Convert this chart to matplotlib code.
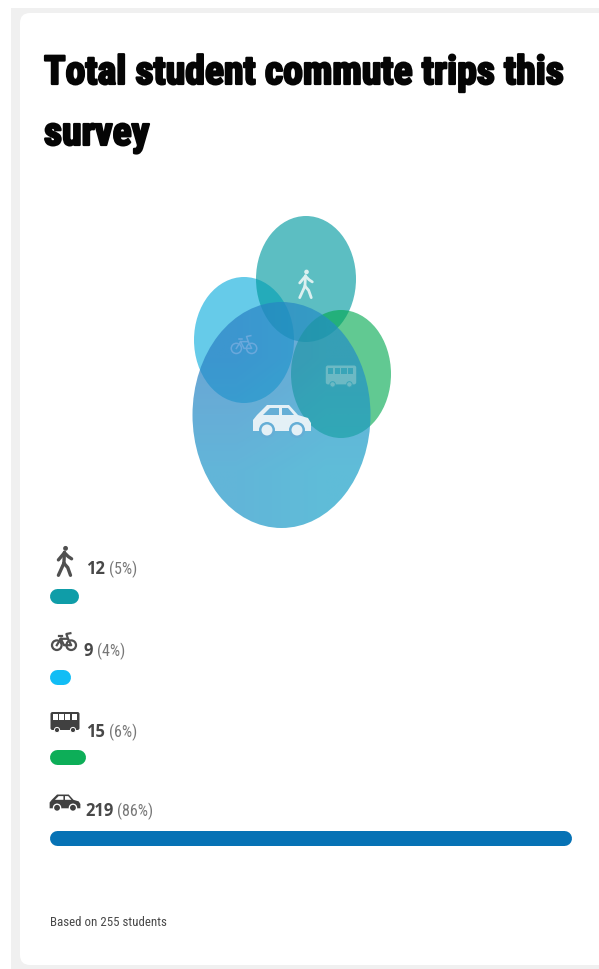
"""Total student commute trips: overlapping ellipses above a small bar list."""
import matplotlib
matplotlib.use('Agg')
import matplotlib.pyplot as plt
import matplotlib.patheffects as pe
import numpy as np
from matplotlib.patches import Ellipse, FancyBboxPatch, Circle, Polygon, Rectangle

TITLE = ["Total student commute trips this", "survey"]
MODES = ["walk", "bike", "bus", "car"]
COUNTS = [12, 9, 15, 219]
SHARES = ["(5%)", "(4%)", "(6%)", "(86%)"]
BAR_COLORS = ["#0F9DA8", "#12BDF5", "#0DAE58", "#0672B5"]
FOOTNOTE = "Based on 255 students"

BAR_X0 = 49.5
BAR_PX_PER_TRIP = 522 / 219
BAR_MID = [596, 677, 757, 838]
LABEL_Y = [569, 651, 732, 811]
ICON_X = [65, 64, 65, 65]
ICON_Y = [561, 642, 722, 803]
TEXT_X = [86, 84, 86, 85]

fig = plt.figure(figsize=(5.99, 9.69), dpi=100)
ax = fig.add_axes([0, 0, 1, 1])

# card
ax.add_patch(Rectangle((11, 8), 600, 962, fc="#F0F0F0", ec="none"))
ax.add_patch(FancyBboxPatch((20, 13), 600, 952, boxstyle="round,pad=0,rounding_size=10",
                            fc="white", ec="none"))

# title
for line, y in zip(TITLE, [73, 134]):
    ax.text(44, y, line, fontsize=28.6, family="Roboto Condensed", weight="bold",
            va="center", ha="left", color="#050505",
            path_effects=[pe.withStroke(linewidth=1.6, foreground="#050505")])

# bubbles, bottom one first; the car bubble fades from blue to cyan
ax.add_patch(Ellipse((244, 340), 100, 126, fc="#66CBE9", ec="none"))
ax.add_patch(Ellipse((306, 279), 100, 126, fc="#009AA0", alpha=0.64, ec="none"))
ax.add_patch(Ellipse((341, 374), 100, 128, fc="#00A850", alpha=0.62, ec="none"))
car_shape = Ellipse((281.5, 415), 178, 226, fc="none", ec="none")
ax.add_patch(car_shape)
car_fill = np.array([[[42, 128, 196], [36, 142, 198]],
                     [[30, 150, 200], [26, 160, 200]]]) / 255
car_img = ax.imshow(np.dstack([car_fill, np.full((2, 2), 0.7)]),
                    extent=(192, 371, 528, 302), aspect='auto',
                    interpolation='bilinear', origin='upper', zorder=1)
car_img.set_clip_path(car_shape)


def draw_walk(cx, cy, s, color, lw):
    ax.add_patch(Circle((cx + 0.5 * s, cy - 11.5 * s), 2.2 * s, fc=color, ec="none"))
    segs = [[(-0.5, -8), (-1, 2)], [(-1, 2), (-6, 13)], [(-1, 2), (2.5, 6), (5, 13)],
            [(-6, -1), (-0.5, -7.5), (3, -4), (6, -2)]]
    for seg in segs:
        ax.plot([cx + p[0] * s for p in seg], [cy + p[1] * s for p in seg],
                color=color, lw=lw, solid_capstyle='round')


def draw_bike(cx, cy, s, color, lw=1.3):
    for dx in (-9, 9):
        ax.add_patch(Circle((cx + dx * s, cy + 4 * s), 6 * s, fc="none", ec=color, lw=lw))
    pts = [(-9, 4), (-4, -4), (5, -4), (9, 4), (0, 4), (-4, -4)]
    ax.plot([cx + p[0] * s for p in pts], [cy + p[1] * s for p in pts], color=color, lw=lw)
    ax.plot([cx + 5 * s, cx + 3 * s, cx + 8 * s], [cy - 4 * s, cy - 10 * s, cy - 11 * s],
            color=color, lw=lw)
    ax.plot([cx - 6 * s, cx - 2 * s], [cy - 7 * s, cy - 7 * s], color=color, lw=lw)


def draw_bus(cx, cy, s, color, glass, wheel):
    ax.add_patch(FancyBboxPatch((cx - 14.5 * s, cy - 10 * s), 29 * s, 18 * s,
                                boxstyle=f"round,pad=0,rounding_size={2 * s}",
                                fc=color, ec="none"))
    for i in range(4):
        ax.add_patch(Rectangle((cx + (-12.5 + 6.4 * i) * s, cy - 8 * s), 5 * s, 6 * s,
                               fc=glass, ec="none"))
    for dx in (-8, 8):
        ax.add_patch(Circle((cx + dx * s, cy + 8 * s), 2.6 * s, fc=color, ec=wheel, lw=0.7))


def draw_car(cx, cy, s, color, glass, wheel):
    body = [(-29, 10), (-29, -1), (-25, -6), (-15, -16), (7, -16), (16, -6), (26, -3),
            (29, 2), (29, 10)]
    ax.add_patch(Polygon([(cx + x * s, cy + y * s) for x, y in body], fc=color, ec="none",
                         joinstyle='round'))
    for win in ([(-19, -6), (-12, -13), (-3, -13), (-3, -6)], [(0, -13), (6, -13), (12, -6), (0, -6)]):
        ax.add_patch(Polygon([(cx + x * s, cy + y * s) for x, y in win], fc=glass, ec="none"))
    for dx in (-15, 15):
        ax.add_patch(Circle((cx + dx * s, cy + 9 * s), 8 * s, fc=wheel, ec="none"))
        ax.add_patch(Circle((cx + dx * s, cy + 9 * s), 5.5 * s, fc=color, ec="none"))


draw_walk(306, 284, 1.05, "#DCF0F0", 2.0)
draw_bike(244, 345, 0.85, "#6AA8DC", lw=1.1)
draw_bus(341, 376, 1.05, "#6CB9C4", "#39A5B8", "#39A5B8")
draw_car(282, 421, 1.0, "#E4F0F6", "#65AED6", "#65AED6")

# value rows
icon_fns = {
    "walk": lambda x, y: draw_walk(x, y, 1.1, "#505050", 2.4),
    "bike": lambda x, y: draw_bike(x, y, 0.8, "#505050", lw=1.6),
    "bus": lambda x, y: draw_bus(x, y, 1.0, "#404040", "white", "white"),
    "car": lambda x, y: draw_car(x, y, 0.53, "#404040", "white", "white"),
}
for i, mode in enumerate(MODES):
    w = COUNTS[i] * BAR_PX_PER_TRIP
    ax.plot([BAR_X0 + 7.5, BAR_X0 + w - 7.5], [BAR_MID[i], BAR_MID[i]], color=BAR_COLORS[i],
            lw=10.8, solid_capstyle='round')
    icon_fns[mode](ICON_X[i], ICON_Y[i])
    t = ax.text(TEXT_X[i], LABEL_Y[i], str(COUNTS[i]), fontsize=12, family="Open Sans",
                weight=700, color="#484848", va="center", ha="left")
    ax.set_xlim(0, 599)
    ax.set_ylim(969, 0)
    fig.canvas.draw()
    bb = t.get_window_extent().transformed(ax.transData.inverted())
    ax.text(bb.x1 + 4, LABEL_Y[i], SHARES[i], fontsize=11.5, family="Roboto Condensed", weight=400,
            color="#777777", va="center", ha="left")

ax.text(50, 922, FOOTNOTE, fontsize=9.3, family="Roboto Condensed", weight=400, color="#484848",
        va="center", ha="left")

ax.set_xlim(0, 599)
ax.set_ylim(969, 0)
ax.axis('off')
fig.savefig("out.png", dpi=100)
